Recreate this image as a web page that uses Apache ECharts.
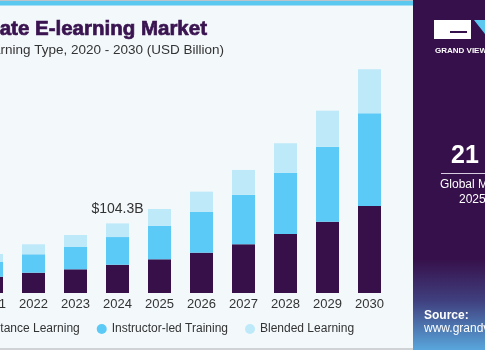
<!DOCTYPE html>
<html>
<head>
<meta charset="utf-8">
<script src="https://cdn.jsdelivr.net/npm/echarts@6/dist/echarts.min.js"></script>
<style>
  html, body { margin: 0; padding: 0; background: #f3f8fb; }
  #chart { width: 485px; height: 350px; }
</style>
</head>
<body>
<div id="chart"></div>
<script>
// values (USD Billion)
const years = ['2020', '2021', '2022', '2023', '2024', '2025', '2026', '2027', '2028', '2029', '2030']
const distance = [21, 24.4, 30.4, 35.5, 42.3, 50.5, 60.4, 73.0, 88.4, 106.8, 130.3]
const instructor = [19, 22.0, 27.6, 33.9, 41.5, 50.3, 61.4, 74.3, 91.4, 112.4, 138.9]
const blended = [10, 12.0, 15.0, 17.5, 20.5, 25.0, 30.0, 37.0, 44.5, 53.9, 65.9]
const seriesNames = ['Distance Learning', 'Instructor-led Training', 'Blended Learning']
const calloutYear = '2024'
const calloutText = '$104.3B'

const PURPLE = '#37104a'
const BLUE = '#5ccaf6'
const LIGHT = '#bee9f9'
const FONT = "'Liberation Sans', Arial, sans-serif"

const chart = echarts.init(document.getElementById('chart'))

const blendedData = blended.map(function (v, i) {
  if (years[i] !== calloutYear) return v
  return {
    value: v,
    label: {
      show: true,
      position: 'top',
      distance: 7,
      formatter: calloutText,
      color: '#333',
      fontSize: 14,
      fontFamily: FONT
    }
  }
})

const option = {
  backgroundColor: '#f3f8fb',
  animation: false,
  grid: {
    left: -71.5,
    width: 462,
    top: 60,
    bottom: 57,
    containLabel: false,
    outerBoundsMode: 'none'
  },
  legend: {
    left: -37,
    top: 318,
    icon: 'circle',
    itemWidth: 10,
    itemHeight: 10,
    itemGap: 17,
    textStyle: { color: '#333', fontSize: 12, fontFamily: FONT },
    data: seriesNames
  },
  xAxis: {
    type: 'category',
    data: years,
    axisLine: { show: false },
    axisTick: { show: false },
    axisLabel: { color: '#333', fontSize: 13, fontFamily: FONT, margin: 5 }
  },
  yAxis: {
    type: 'value',
    min: 0,
    max: 349,
    show: false,
    splitLine: { show: false }
  },
  series: [
    { name: seriesNames[0], type: 'bar', stack: 'total', barWidth: 23, data: distance, itemStyle: { color: PURPLE } },
    { name: seriesNames[1], type: 'bar', stack: 'total', barWidth: 23, data: instructor, itemStyle: { color: BLUE } },
    { name: seriesNames[2], type: 'bar', stack: 'total', barWidth: 23, data: blendedData, itemStyle: { color: LIGHT } }
  ],
  graphic: [
    // top stripe
    { type: 'rect', shape: { x: 0, y: 0, width: 413, height: 1 }, style: { fill: '#b9c3c9' } },
    { type: 'rect', shape: { x: 0, y: 1, width: 413, height: 4 }, style: { fill: '#5bc8f0' } },
    { type: 'rect', shape: { x: 0, y: 5, width: 413, height: 1 }, style: { fill: '#a6def5' } },
    // bottom rule
    { type: 'rect', shape: { x: 0, y: 348, width: 413, height: 2 }, style: { fill: '#cfd3d6' } },
    // title
    {
      type: 'text',
      style: {
        text: 'Corporate E-learning Market',
        x: 207, y: 29,
        textAlign: 'right', textVerticalAlign: 'middle',
        font: 'bold 20.5px ' + FONT,
        fill: '#3a1450',
        stroke: '#3a1450',
        lineWidth: 0.7
      }
    },
    {
      type: 'text',
      style: {
        text: 'size, by Learning Type, 2020 - 2030 (USD Billion)',
        x: 224, y: 50,
        textAlign: 'right', textVerticalAlign: 'middle',
        font: '13.5px ' + FONT,
        fill: '#333'
      }
    },
    // right panel
    {
      type: 'rect',
      shape: { x: 413, y: 0, width: 72, height: 350 },
      style: {
        fill: new echarts.graphic.LinearGradient(0, 0, 0, 1, [
          { offset: 0, color: '#36104a' },
          { offset: 0.74, color: '#36104a' },
          { offset: 0.86, color: '#40407f' },
          { offset: 1, color: '#58a6dc' }
        ])
      }
    },
    // logo
    { type: 'rect', shape: { x: 434, y: 20, width: 37, height: 19 }, style: { fill: '#ffffff' } },
    { type: 'rect', shape: { x: 450, y: 31, width: 17, height: 2 }, style: { fill: '#36104a' } },
    { type: 'polygon', shape: { points: [[474, 20], [485, 20], [485, 34]] }, style: { fill: '#5bc8f0' } },
    {
      type: 'text',
      style: { text: 'GRAND VIEW RESEARCH', x: 435, y: 51, textVerticalAlign: 'middle', font: 'bold 8px ' + FONT, fill: '#ffffff' }
    },
    {
      type: 'text',
      style: { text: '21', x: 451, y: 156, textVerticalAlign: 'middle', font: 'bold 25px ' + FONT, fill: '#ffffff' }
    },
    { type: 'rect', shape: { x: 441, y: 173, width: 44, height: 1 }, style: { fill: '#d8cde0' } },
    {
      type: 'text',
      style: { text: 'Global Market Size,', x: 440, y: 185, textVerticalAlign: 'middle', font: '12px ' + FONT, fill: '#ffffff' }
    },
    {
      type: 'text',
      style: { text: '2025 (USD Billion)', x: 459, y: 200, textVerticalAlign: 'middle', font: '12px ' + FONT, fill: '#ffffff' }
    },
    {
      type: 'text',
      style: { text: 'Source:', x: 424, y: 316, textVerticalAlign: 'middle', font: 'bold 12px ' + FONT, fill: '#ffffff' }
    },
    {
      type: 'text',
      style: { text: 'www.grandviewresearch.com', x: 424, y: 329, textVerticalAlign: 'middle', font: '12px ' + FONT, fill: '#ffffff' }
    }
  ]
}

chart.setOption(option)
</script>
</body>
</html>
